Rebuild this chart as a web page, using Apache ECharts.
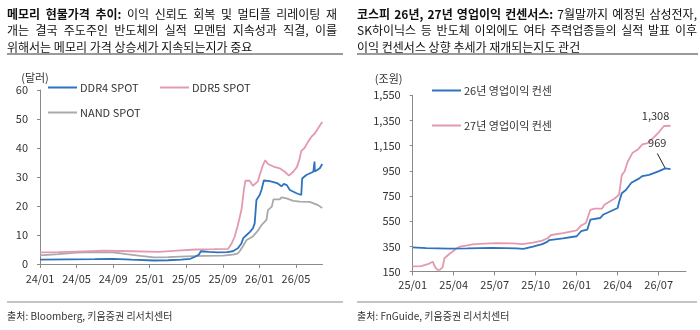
<!DOCTYPE html>
<html><head><meta charset="utf-8">
<script src="https://cdn.jsdelivr.net/npm/echarts@6/dist/echarts.min.js"></script>
<style>
html,body{margin:0;padding:0;background:#fff;}
#wrap{position:relative;width:700px;height:330px;overflow:hidden;font-family:"Noto Sans CJK KR","Noto Sans",sans-serif;color:#111;}
#chart{position:absolute;left:0;top:0;width:700px;height:330px;}
.hd{position:absolute;top:6px;font-size:12px;line-height:16.3px;z-index:2;}
.hd div{white-space:nowrap;}
.hd .j{text-align:justify;text-align-last:justify;white-space:normal;}
.hd b{font-weight:700;}
.rule{position:absolute;height:2px;background:#9a9a9a;z-index:2;}
.frule{position:absolute;height:2px;background:#c4c4c4;z-index:2;}
.src{position:absolute;top:309px;font-size:10px;line-height:14px;color:#333;z-index:2;}
</style></head>
<body>
<div id="wrap">
  <div id="chart"></div>
  <div class="hd" style="left:7px;width:330px;">
    <div class="j"><b>메모리 현물가격 추이:</b> 이익 신뢰도 회복 및 멀티플 리레이팅 재</div>
    <div class="j">개는 결국 주도주인 반도체의 실적 모멘텀 지속성과 직결, 이를</div>
    <div>위해서는 메모리 가격 상승세가 지속되는지가 중요</div>
  </div>
  <div class="hd" style="left:357px;width:340px;">
    <div class="j"><b>코스피 26년, 27년 영업이익 컨센서스:</b> 7월말까지 예정된 삼성전자,</div>
    <div class="j">SK하이닉스 등 반도체 이외에도 여타 주력업종들의 실적 발표 이후</div>
    <div>이익 컨센서스 상향 추세가 재개되는지도 관건</div>
  </div>
  <div class="rule" style="left:7px;width:336px;top:53px;"></div>
  <div class="rule" style="left:357px;width:341px;top:53px;"></div>
  <div class="frule" style="left:7px;width:336px;top:301px;"></div>
  <div class="frule" style="left:357px;width:340px;top:301px;"></div>
  <div class="src" style="left:7px;">출처: Bloomberg, 키움증권 리서치센터</div>
  <div class="src" style="left:357px;">출처: FnGuide, 키움증권 리서치센터</div>
</div>
<script>
// ---------- Left chart data (달러) ----------
const leftTickLabels = ['24/01','24/05','24/09','25/01','25/05','25/09','26/01','26/05'];
const leftAxisEnd = '2026-07-29';
const ddr4Dates = ['2024-01-01','2024-04-01','2024-07-01','2024-09-01','2024-11-01','2025-01-15','2025-03-01','2025-04-15','2025-05-15','2025-05-29','2025-06-12','2025-06-19','2025-07-15','2025-08-15','2025-09-15','2025-10-04','2025-10-21','2025-11-02','2025-11-08','2025-11-19','2025-11-30','2025-12-10','2025-12-16','2025-12-22','2026-01-02','2026-01-08','2026-01-16','2026-02-05','2026-02-27','2026-03-14','2026-03-22','2026-04-01','2026-04-11','2026-05-03','2026-05-19','2026-05-22','2026-06-05','2026-06-28','2026-07-01','2026-07-02','2026-07-03','2026-07-20','2026-07-28'];
const ddr4Values = [1.5,1.6,1.7,1.8,1.5,1.2,1.3,1.5,1.8,2.4,3.2,4.4,4.2,4.0,4.1,4.4,5.4,7.1,8.9,10.0,11.1,12.3,14.0,22.1,23.8,25.5,28.8,28.6,27.9,26.8,27.6,27.2,25.5,24.4,23.8,29.5,30.7,31.8,31.9,35.3,31.9,33.0,34.5];
const ddr5Dates = ['2024-01-01','2024-03-01','2024-05-01','2024-08-01','2024-11-01','2025-02-01','2025-04-01','2025-06-01','2025-08-01','2025-09-18','2025-09-30','2025-10-10','2025-10-21','2025-11-02','2025-11-10','2025-11-15','2025-11-29','2025-12-10','2025-12-15','2025-12-27','2026-01-02','2026-01-13','2026-01-21','2026-01-30','2026-02-16','2026-03-08','2026-03-25','2026-04-08','2026-04-22','2026-05-04','2026-05-14','2026-05-19','2026-05-30','2026-06-11','2026-06-22','2026-07-03','2026-07-14','2026-07-28'];
const ddr5Values = [4.0,4.1,4.3,4.6,4.4,4.2,4.6,5.0,5.1,5.2,7.1,9.4,13.4,18.6,25.5,28.7,28.7,27.0,26.7,28.5,30.7,34.1,35.8,34.5,33.6,33.0,31.8,30.5,31.8,33.4,36.5,39.0,40.0,42.2,43.9,45.0,46.8,49.0];
const nandDates = ['2024-01-01','2024-03-01','2024-05-01','2024-07-01','2024-09-01','2024-10-15','2024-12-01','2025-01-15','2025-03-01','2025-05-01','2025-07-01','2025-09-01','2025-10-04','2025-10-20','2025-10-27','2025-11-08','2025-11-19','2025-12-10','2025-12-27','2026-01-08','2026-01-25','2026-01-30','2026-02-11','2026-02-16','2026-03-08','2026-03-14','2026-03-31','2026-04-22','2026-05-14','2026-06-16','2026-07-14','2026-07-28'];
const nandValues = [3.0,3.4,3.9,4.1,4.0,3.4,2.8,2.3,2.4,2.6,2.8,2.9,3.2,3.6,4.4,6.3,8.3,9.5,11.5,13.4,15.2,18.6,19.8,22.3,22.3,23.0,22.6,21.8,21.5,21.4,20.3,19.3];

// ---------- Right chart data (조원) ----------
const rightTickLabels = ['25/01','25/04','25/07','25/10','26/01','26/04','26/07'];
const rightAxisEnd = '2026-09-01';
const op26Dates = ['2025-01-01','2025-02-01','2025-03-22','2025-05-01','2025-06-26','2025-08-19','2025-09-04','2025-09-25','2025-10-16','2025-10-27','2025-11-01','2025-12-01','2026-01-01','2026-01-11','2026-01-25','2026-02-01','2026-02-21','2026-02-28','2026-04-01','2026-04-04','2026-04-10','2026-04-19','2026-05-01','2026-05-19','2026-05-26','2026-06-10','2026-06-29','2026-07-16','2026-07-28'];
const op26Values = [342,335,331,333,337,334,329,347,368,385,400,414,430,470,482,562,575,603,655,700,772,797,855,890,908,918,943,969,964];
const op27Dates = ['2025-01-01','2025-01-20','2025-02-04','2025-02-14','2025-02-19','2025-02-24','2025-03-01','2025-03-07','2025-03-11','2025-03-22','2025-03-29','2025-04-06','2025-04-14','2025-04-28','2025-05-13','2025-05-28','2025-07-04','2025-08-11','2025-09-02','2025-09-25','2025-10-16','2025-10-28','2025-11-05','2025-12-01','2026-01-01','2026-01-11','2026-01-22','2026-02-01','2026-02-10','2026-02-25','2026-03-02','2026-03-25','2026-04-04','2026-04-10','2026-04-16','2026-04-23','2026-05-04','2026-05-16','2026-05-26','2026-06-07','2026-06-22','2026-07-02','2026-07-13','2026-07-28'];
const op27Values = [191,192,208,228,185,163,165,185,255,289,307,331,347,355,365,370,375,374,368,380,395,414,440,455,476,515,535,640,650,650,680,730,760,916,945,1022,1094,1120,1160,1170,1221,1260,1306,1308];
const op26Label = 969;
const op27Label = 1308;

// ---------- helpers ----------
function monthsSince(dateStr, baseYear) {
  const p = dateStr.split('-').map(Number);
  const dim = new Date(p[0], p[1], 0).getDate();
  return (p[0] - baseYear) * 12 + (p[1] - 1) + (p[2] - 1) / dim;
}
function tickPos(label, baseYear) {
  const p = label.split('/').map(Number);
  return (2000 + p[0] - baseYear) * 12 + (p[1] - 1);
}
function pairs(dates, values, baseYear) {
  return dates.map((d, i) => [monthsSince(d, baseYear), values[i]]);
}
const leftTicks = leftTickLabels.map(l => tickPos(l, 2024));
const rightTicks = rightTickLabels.map(l => tickPos(l, 2025));
function labelFor(ticks, labels) {
  return v => { const i = ticks.findIndex(t => Math.abs(t - v) < 1e-6); return i >= 0 ? labels[i] : ''; };
}

const BLUE = '#2f72bd', PINK = '#e39aae', GRAY = '#a9a9a9';
const AX = '#8a8a8a', TXT = '#333';
const FONT = '"Noto Sans CJK KR","Noto Sans",sans-serif';

const axisCommon = {
  axisLine: { show: true, lineStyle: { color: AX, width: 1 } },
  axisTick: { show: true, length: 3, lineStyle: { color: AX } },
  splitLine: { show: false },
  axisLabel: { color: TXT, fontSize: 11, fontFamily: FONT }
};

const op26Pairs = pairs(op26Dates, op26Values, 2025);
const op27Pairs = pairs(op27Dates, op27Values, 2025);
const op26Idx = op26Values.indexOf(op26Label);
const op27Idx = op27Values.lastIndexOf(op27Label);
const labelStyle = { color: TXT, fontSize: 11, fontFamily: FONT };

const legendBase = { icon: 'rect', itemWidth: 29, itemHeight: 2, itemGap: 0, orient: 'horizontal', textStyle: { color: TXT, fontSize: 11, fontFamily: FONT, padding: [0, 0, 0, -2] }, selectedMode: false };

const chart = echarts.init(document.getElementById('chart'), null, { renderer: 'canvas' });
chart.setOption({
  animation: false,
  backgroundColor: 'transparent',
  grid: [
    { left: 40, top: 90, width: 282.5, height: 174 },
    { left: 412.7, top: 95.3, width: 273.3, height: 176.2 }
  ],
  legend: [
    Object.assign({}, legendBase, { left: 43, top: 77, data: ['DDR4 SPOT'] }),
    Object.assign({}, legendBase, { left: 155, top: 77, data: ['DDR5 SPOT'] }),
    Object.assign({}, legendBase, { left: 43, top: 102, data: ['NAND SPOT'] }),
    Object.assign({}, legendBase, { left: 427, top: 80, data: ['26년 영업이익 컨센'] }),
    Object.assign({}, legendBase, { left: 427, top: 115, data: ['27년 영업이익 컨센'] })
  ],
  xAxis: [
    Object.assign({}, axisCommon, {
      type: 'value', gridIndex: 0, min: 0, max: monthsSince(leftAxisEnd, 2024),
      axisTick: { show: true, length: 4, lineStyle: { color: AX }, customValues: leftTicks },
      axisLabel: { color: TXT, fontSize: 11, fontFamily: FONT, margin: 9, customValues: leftTicks, formatter: labelFor(leftTicks, leftTickLabels) }
    }),
    Object.assign({}, axisCommon, {
      type: 'value', gridIndex: 1, min: 0, max: monthsSince(rightAxisEnd, 2025),
      axisTick: { show: true, length: 4, lineStyle: { color: AX }, customValues: rightTicks },
      axisLabel: { color: TXT, fontSize: 11, fontFamily: FONT, margin: 8, customValues: rightTicks, formatter: labelFor(rightTicks, rightTickLabels) }
    })
  ],
  yAxis: [
    Object.assign({}, axisCommon, {
      type: 'value', gridIndex: 0, min: 0, max: 60, interval: 10,
      name: '(달러)', nameGap: 7, nameTextStyle: { color: TXT, fontSize: 11, fontFamily: FONT, padding: [0, 10, 0, 0] },
      axisLabel: { color: TXT, fontSize: 11, fontFamily: FONT, margin: 12 }
    }),
    Object.assign({}, axisCommon, {
      type: 'value', gridIndex: 1, min: 150, max: 1550, interval: 200,
      name: '(조원)', nameGap: 11, nameTextStyle: { color: TXT, fontSize: 11, fontFamily: FONT, padding: [0, 48, 0, 0] },
      axisLabel: { color: TXT, fontSize: 11, fontFamily: FONT, margin: 12, formatter: v => v.toLocaleString('en-US') }
    })
  ],
  series: [
    { name: 'NAND SPOT', type: 'line', xAxisIndex: 0, yAxisIndex: 0, showSymbol: false, symbol: 'none', color: GRAY, lineStyle: { color: GRAY, width: 1.8 }, data: pairs(nandDates, nandValues, 2024) },
    { name: 'DDR5 SPOT', type: 'line', xAxisIndex: 0, yAxisIndex: 0, showSymbol: false, symbol: 'none', color: PINK, lineStyle: { color: PINK, width: 1.8 }, data: pairs(ddr5Dates, ddr5Values, 2024) },
    { name: 'DDR4 SPOT', type: 'line', xAxisIndex: 0, yAxisIndex: 0, showSymbol: false, symbol: 'none', color: BLUE, lineStyle: { color: BLUE, width: 1.8 }, data: pairs(ddr4Dates, ddr4Values, 2024) },
    { name: '27년 영업이익 컨센', type: 'line', xAxisIndex: 1, yAxisIndex: 1, showSymbol: false, symbol: 'none', color: PINK, lineStyle: { color: PINK, width: 1.8 }, data: op27Pairs,
      markPoint: { symbol: 'circle', symbolSize: 0, silent: true, animation: false,
        label: Object.assign({ show: true, position: 'top', distance: 4, offset: [-15, 0], formatter: () => op27Label.toLocaleString('en-US') }, labelStyle),
        data: [{ coord: op27Pairs[op27Idx] }] } },
    { name: '26년 영업이익 컨센', type: 'line', xAxisIndex: 1, yAxisIndex: 1, showSymbol: false, symbol: 'none', color: BLUE, lineStyle: { color: BLUE, width: 1.8 }, data: op26Pairs,
      markPoint: { symbol: 'circle', symbolSize: 0, silent: true, animation: false,
        label: Object.assign({ show: true, position: 'top', distance: 4, offset: [-8, -16], formatter: () => String(op26Label) }, labelStyle),
        data: [{ coord: op26Pairs[op26Idx] }] } }
  ]
});

// leader line for the 969 label, anchored to its data point
const pt = chart.convertToPixel({ gridIndex: 1 }, op26Pairs[op26Idx]);
chart.setOption({
  graphic: [{ type: 'line', shape: { x1: pt[0] - 8, y1: pt[1] - 15, x2: pt[0], y2: pt[1] }, style: { stroke: '#222', lineWidth: 1 }, silent: true }]
});
</script>
</body></html>
